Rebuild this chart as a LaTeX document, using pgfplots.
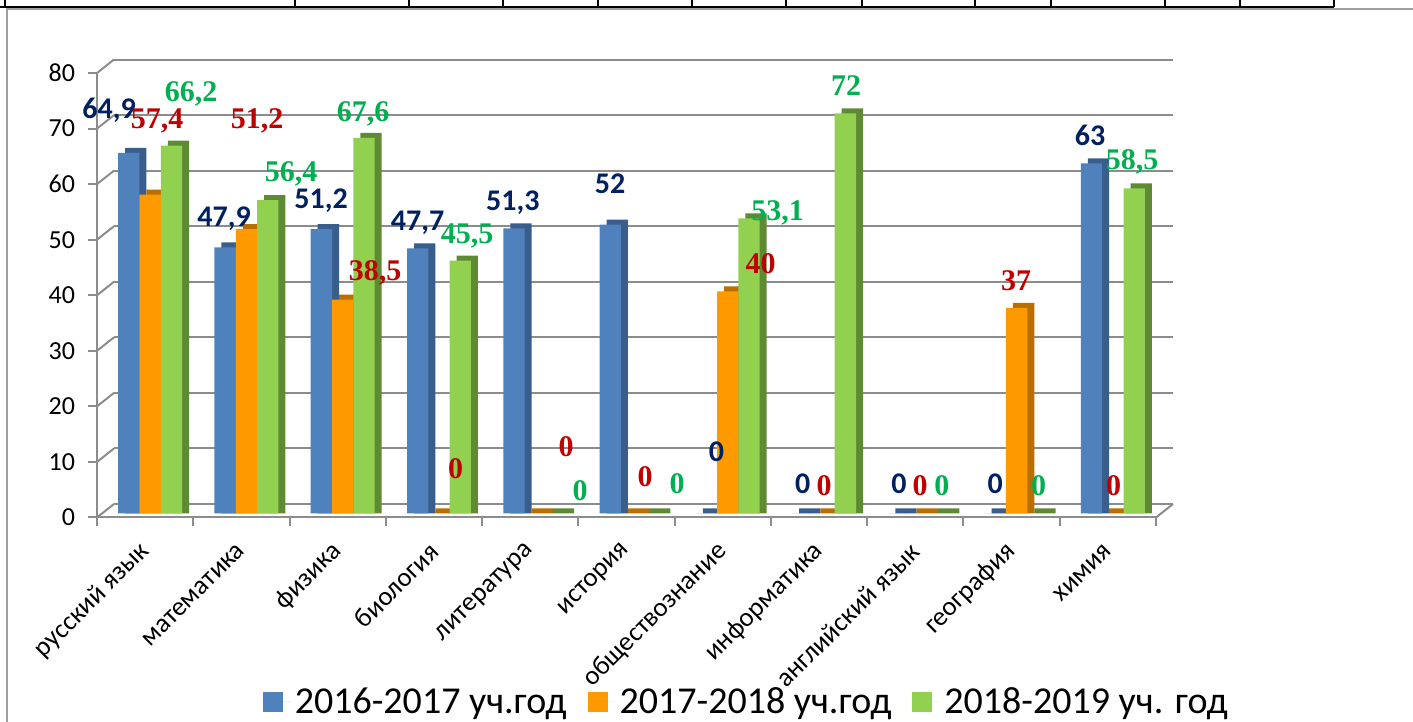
\documentclass[border=0pt]{standalone}
\usepackage{fontspec}
\setmainfont{Carlito}
\newfontfamily\timesf{Liberation Serif}
\usepackage{pgfplots}
\usepackage{pgfplotstable}
\pgfplotsset{compat=1.18}
\definecolor{bF}{HTML}{4F81BD}
\definecolor{bS}{HTML}{395E8C}
\definecolor{oF}{HTML}{FF9900}
\definecolor{oS}{HTML}{B86F00}
\definecolor{gF}{HTML}{92D050}
\definecolor{gS}{HTML}{5F8A34}
\definecolor{gridc}{HTML}{8C8C8C}
\definecolor{labB}{HTML}{002060}
\definecolor{labR}{HTML}{C00000}
\definecolor{labG}{HTML}{00B050}

\pgfplotstableread{
x v
0 64.9
1 47.9
2 51.2
3 47.7
4 51.3
5 52
6 0
7 0
8 0
9 0
10 63
}\dA
\pgfplotstableread{
x v
0 57.4
1 51.2
2 38.5
3 0
4 0
5 0
6 40
7 0
8 0
9 37
10 0
}\dB
\pgfplotstableread{
x v
0 66.2
1 56.4
2 67.6
3 45.5
4 0
5 0
6 53.1
7 72
8 0
9 0
10 58.5
}\dC

\pgfplotstableread{
lx ly t
-0.375 71.9 64,9
0.82 52.3 47,9
1.827 55.7 51,2
2.83 51.7 47,7
3.82 55.3 51,3
4.83 58.4 52
5.935 10.0 0
6.83 4.4 0
7.83 4.4 0
8.83 4.4 0
9.815 67.0 63
}\lA
\pgfplotstableread{
lx ly t
0.124 70.1 57,4
1.162 70.1 51,2
2.388 42.6 38,5
3.224 7.1 0
4.372 10.9 0
5.193 5.5 0
6.392 44.0 40
7.052 4.0 0
8.049 4.0 0
9.047 40.9 37
10.059 4.0 0
}\lB
\pgfplotstableread{
lx ly t
0.477 74.8 66,2
1.516 60.4 56,4
2.263 71.2 67,6
3.344 49.4 45,5
4.517 3.0 0
5.525 4.4 0
6.569 53.5 53,1
7.28 76.0 72
8.277 4.0 0
9.28 4.0 0
10.252 62.7 58,5
}\lC

\pgfplotsset{base/.style={scale only axis, width=529.5pt, height=222.25pt,
  xmin=-0.5, xmax=10.5, ymin=0, ymax=80, anchor=south west, clip=false}}

\begin{document}
\begin{tikzpicture}
\useasboundingbox (0,0) rectangle (706.5pt,361pt);

% back wall grid
\begin{axis}[base, at={(57pt,109pt)}, axis line style={draw=none},
  xtick=\empty, ytick={0,10,...,80}, yticklabels={}, major tick length=0pt,
  ymajorgrids, grid style={gridc, line width=1pt}]
\end{axis}

% bars
\begin{axis}[base, at={(48.5pt,104.25pt)}, hide axis, ybar, bar width=10.65pt]
\addplot[fill=bS, draw=none, bar shift=-4.65pt] table[x=x, y expr=\thisrow{v}+0.9]{\dA};
\addplot[fill=bF, draw=none, bar shift=-8.15pt] table[x=x, y=v]{\dA};
\addplot[fill=oS, draw=none, bar shift=6pt] table[x=x, y expr=\thisrow{v}+0.9]{\dB};
\addplot[fill=oF, draw=none, bar shift=2.5pt] table[x=x, y=v]{\dB};
\addplot[fill=gS, draw=none, bar shift=16.65pt] table[x=x, y expr=\thisrow{v}+0.9]{\dC};
\addplot[fill=gF, draw=none, bar shift=13.15pt] table[x=x, y=v]{\dC};
\end{axis}

% front axis, labels, legend
\begin{axis}[base, at={(48.5pt,102.25pt)},
  axis x line*=bottom, axis y line*=left,
  axis line style={gridc, line width=1pt},
  tick style={gridc, line width=1pt}, tick align=outside,
  ytick={0,10,...,80}, major tick length=4.5pt,
  xtick={0,...,10},
  xticklabels={русский язык, математика, физика, биология, литература, история, обществознание, информатика, английский язык, география, химия},
  major x tick style={draw=none},
  minor xtick={-0.5,0.5,...,10.5}, minor tick length=4pt,
  /pgf/number format/assume math mode=true,
  yticklabel style={font=\fontsize{13}{15}\selectfont, text=black, xshift=-3pt},
  xticklabel style={font=\fontsize{13.4}{15}\selectfont, text=black, xshift=2.5pt, yshift=-8pt, rotate=45, anchor=east},
  legend columns=3,
  legend style={at={(0.614,-0.415)}, anchor=center, draw=none, fill=none,
    font=\fontsize{19}{22}\selectfont,
    /tikz/every even column/.append style={column sep=8.5pt}},
  legend image code/.code={\fill[#1] (0pt,-5pt) rectangle (10pt,5pt); \path (0pt,0pt) -- (14pt,0pt);}
]
\addlegendimage{fill=bF, draw=none}
\addlegendentry{2016-2017 уч.год}
\addlegendimage{fill=oF, draw=none}
\addlegendentry{2017-2018 уч.год}
\addlegendimage{fill=gF, draw=none}
\addlegendentry{2018-2019 уч. год}

\pgfplotsinvokeforeach{0,10,...,80}{\draw[gridc, line width=1pt] (axis cs:-0.5,#1) -- ++(8.5pt,6.75pt);}
\draw[gridc, line width=1pt] (axis cs:10.5,0) -- ++(8.5pt,6.75pt);

\addplot[forget plot, draw=none, mark=none, nodes near coords, point meta=explicit symbolic,
  every node near coord/.append style={anchor=base, inner sep=0pt, text=labB,
  font=\bfseries\fontsize{15}{16}\selectfont}] table[x=lx, y=ly, meta=t]{\lA};
\addplot[forget plot, draw=none, mark=none, nodes near coords, point meta=explicit symbolic,
  every node near coord/.append style={anchor=base, inner sep=0pt, text=labR,
  font=\timesf\bfseries\fontsize{15}{16}\selectfont}] table[x=lx, y=ly, meta=t]{\lB};
\addplot[forget plot, draw=none, mark=none, nodes near coords, point meta=explicit symbolic,
  every node near coord/.append style={anchor=base, inner sep=0pt, text=labG,
  font=\timesf\bfseries\fontsize{15}{16}\selectfont}] table[x=lx, y=ly, meta=t]{\lC};
\end{axis}

% frame and table strip
\draw[gray!75, line width=1pt] (3.5pt,0) -- (3.5pt,356.25pt) -- (706.5pt,356.25pt);
\draw[black, line width=1pt] (0,357.5pt) -- (667pt,357.5pt);
\foreach \xx in {2.5,147.5,204.5,251.5,299,346,393,431,487.5,525.5,582.5,620,667}
  \draw[black, line width=1pt] (\xx pt,357.5pt) -- (\xx pt,361pt);
\end{tikzpicture}
\end{document}
